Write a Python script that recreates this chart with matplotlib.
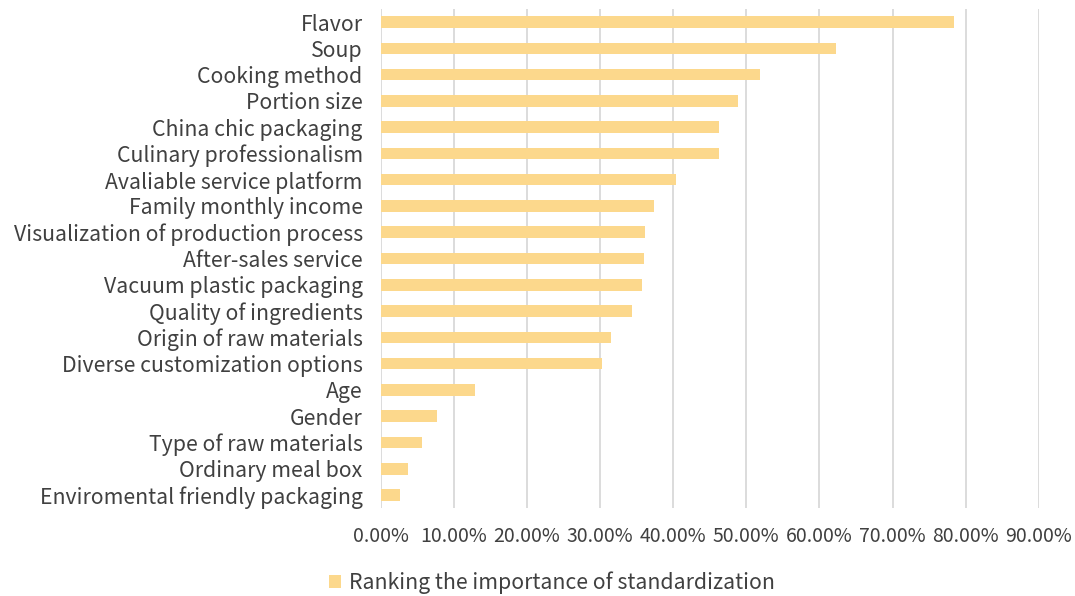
import matplotlib
matplotlib.use("Agg")
import matplotlib.pyplot as plt
from matplotlib.ticker import FuncFormatter, MultipleLocator

categories = [
    "Flavor", "Soup", "Cooking method", "Portion size", "China chic packaging",
    "Culinary professionalism", "Avaliable service platform", "Family monthly income",
    "Visualization of production process", "After-sales service", "Vacuum plastic packaging",
    "Quality of ingredients", "Origin of raw materials", "Diverse customization options",
    "Age", "Gender", "Type of raw materials", "Ordinary meal box",
    "Enviromental friendly packaging",
]
values = [0.784, 0.623, 0.519, 0.488, 0.462, 0.462, 0.404, 0.374, 0.362, 0.360,
          0.358, 0.343, 0.315, 0.303, 0.129, 0.077, 0.057, 0.038, 0.026]
series_name = "Ranking the importance of standardization"

plt.rcParams['font.family'] = ['Noto Sans CJK SC', 'DejaVu Sans']
text_color = "#404040"
fs = 15.3

fig = plt.figure(figsize=(10.75, 5.96), dpi=100)
W, H = 1075, 596
left, right = 380.7 / W, 1038.8 / W
top, bottom = 8.9 / H, 508.2 / H
ax = fig.add_axes([left, 1 - bottom, right - left, bottom - top])

n = len(categories)
ypos = list(range(n))
ax.barh(ypos, values, height=0.44, color="#FCD88C", zorder=3, label=series_name)
ax.set_ylim(n - 0.5, -0.5)
ax.set_xlim(0, 0.9)
ax.xaxis.set_major_locator(MultipleLocator(0.1))
ax.xaxis.set_major_formatter(FuncFormatter(lambda v, p: f"{v*100:.2f}%"))
ax.set_yticks(ypos)
ax.set_yticklabels(categories)
ax.grid(axis="x", color="#D9D9D9", linewidth=1.3, zorder=0)
for s in ax.spines.values():
    s.set_visible(False)
ax.tick_params(axis="both", length=0, colors=text_color)
ax.tick_params(axis="y", pad=13, labelsize=fs)
ax.tick_params(axis="x", pad=13, labelsize=14)
for lab in ax.get_xticklabels() + ax.get_yticklabels():
    lab.set_fontweight("light")

leg = fig.legend(loc="center", bbox_to_anchor=(552 / W, 1 - 583 / H), frameon=False,
                 handlelength=0.55, handleheight=0.55, handletextpad=0.4,
                 prop={"size": fs, "weight": "light"})
for t in leg.get_texts():
    t.set_color(text_color)

fig.savefig("out.png", dpi=100)
